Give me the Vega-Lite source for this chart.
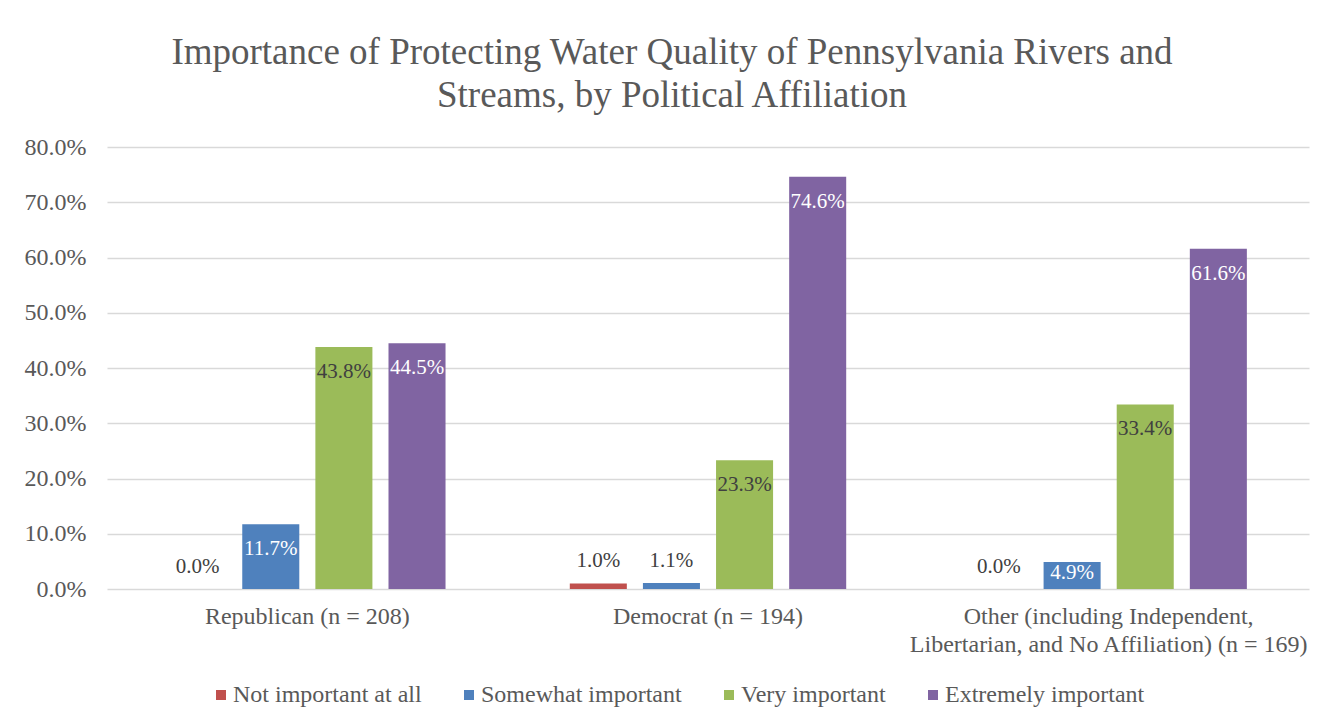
{
  "$schema": "https://vega.github.io/schema/vega-lite/v6.json",
  "autosize": "none",
  "width": 1202,
  "height": 442,
  "padding": {"left": 107, "top": 147, "right": 30, "bottom": 137},
  "background": "white",
  "title": {
    "text": ["Importance of Protecting Water Quality of Pennsylvania Rivers and", "Streams, by Political Affiliation"],
    "font": "Liberation Serif",
    "fontSize": 37,
    "fontWeight": "normal",
    "color": "#595959",
    "anchor": "middle",
    "dx": -36,
    "offset": 20,
    "lineHeight": 43
  },
  "data": {
    "values": [
      {"affiliation": "Republican (n = 208)", "importance": "Not important at all", "share": 0.0},
      {"affiliation": "Republican (n = 208)", "importance": "Somewhat important", "share": 0.117},
      {"affiliation": "Republican (n = 208)", "importance": "Very important", "share": 0.438},
      {"affiliation": "Republican (n = 208)", "importance": "Extremely important", "share": 0.445},
      {"affiliation": "Democrat (n = 194)", "importance": "Not important at all", "share": 0.010},
      {"affiliation": "Democrat (n = 194)", "importance": "Somewhat important", "share": 0.011},
      {"affiliation": "Democrat (n = 194)", "importance": "Very important", "share": 0.233},
      {"affiliation": "Democrat (n = 194)", "importance": "Extremely important", "share": 0.746},
      {"affiliation": "Other (including Independent, Libertarian, and No Affiliation) (n = 169)", "importance": "Not important at all", "share": 0.0},
      {"affiliation": "Other (including Independent, Libertarian, and No Affiliation) (n = 169)", "importance": "Somewhat important", "share": 0.049},
      {"affiliation": "Other (including Independent, Libertarian, and No Affiliation) (n = 169)", "importance": "Very important", "share": 0.334},
      {"affiliation": "Other (including Independent, Libertarian, and No Affiliation) (n = 169)", "importance": "Extremely important", "share": 0.616}
    ]
  },
  "encoding": {
    "x": {
      "field": "affiliation",
      "type": "nominal",
      "sort": null,
      "title": null,
      "scale": {"paddingInner": 0.27, "paddingOuter": 0.135},
      "axis": {
        "domain": false,
        "ticks": false,
        "labelAngle": 0,
        "labelFont": "Liberation Serif",
        "labelFontSize": 24,
        "labelColor": "#595959",
        "labelPadding": 15,
        "labelLineHeight": 28,
        "labelLimit": 0,
        "labelExpr": "indexof(datum.value, 'Other') == 0 ? ['Other (including Independent,', 'Libertarian, and No Affiliation) (n = 169)'] : datum.value"
      }
    },
    "xOffset": {
      "field": "importance",
      "type": "nominal",
      "sort": ["Not important at all", "Somewhat important", "Very important", "Extremely important"],
      "scale": {"paddingInner": 0.22, "paddingOuter": 0.11}
    },
    "y": {
      "field": "share",
      "type": "quantitative",
      "title": null,
      "scale": {"domain": [0, 0.8]},
      "axis": {
        "values": [0, 0.1, 0.2, 0.3, 0.4, 0.5, 0.6, 0.7, 0.8],
        "format": ".1%",
        "domain": false,
        "ticks": false,
        "grid": true,
        "gridColor": "#d9d9d9",
        "gridWidth": 1.5,
        "labelFont": "Liberation Serif",
        "labelFontSize": 24,
        "labelColor": "#595959",
        "labelPadding": 21
      }
    }
  },
  "layer": [
    {
      "mark": {"type": "bar"},
      "encoding": {
        "color": {
          "field": "importance",
          "type": "nominal",
          "sort": ["Not important at all", "Somewhat important", "Very important", "Extremely important"],
          "scale": {
            "domain": ["Not important at all", "Somewhat important", "Very important", "Extremely important"],
            "range": ["#c0504d", "#4f81bd", "#9bbb59", "#8064a2"]
          },
          "legend": {
            "title": null,
            "orient": "none",
            "direction": "horizontal",
            "legendX": 102,
            "legendY": 536,
            "symbolType": "square",
            "symbolSize": 100,
            "symbolStrokeWidth": 0,
            "labelFont": "Liberation Serif",
            "labelFontSize": 24,
            "labelColor": "#595959",
            "labelOffset": 0,
            "columnPadding": 35,
            "labelLimit": 0
          }
        }
      }
    },
    {
      "transform": [{"filter": "datum.share >= 0.1"}],
      "mark": {"type": "text", "baseline": "middle", "dy": 25, "font": "Liberation Serif", "fontSize": 21},
      "encoding": {
        "text": {"field": "share", "type": "quantitative", "format": ".1%"},
        "color": {
          "condition": {"test": "datum.importance == 'Very important'", "value": "#404040"},
          "value": "#ffffff"
        }
      }
    },
    {
      "transform": [{"filter": "datum.share >= 0.03 && datum.share < 0.1"}],
      "mark": {"type": "text", "baseline": "middle", "dy": 11, "font": "Liberation Serif", "fontSize": 21, "color": "#ffffff"},
      "encoding": {
        "text": {"field": "share", "type": "quantitative", "format": ".1%"}
      }
    },
    {
      "transform": [{"filter": "datum.share < 0.03"}],
      "mark": {"type": "text", "baseline": "middle", "dy": -22, "font": "Liberation Serif", "fontSize": 21, "color": "#404040"},
      "encoding": {
        "text": {"field": "share", "type": "quantitative", "format": ".1%"}
      }
    }
  ],
  "config": {
    "view": {"stroke": null}
  }
}
